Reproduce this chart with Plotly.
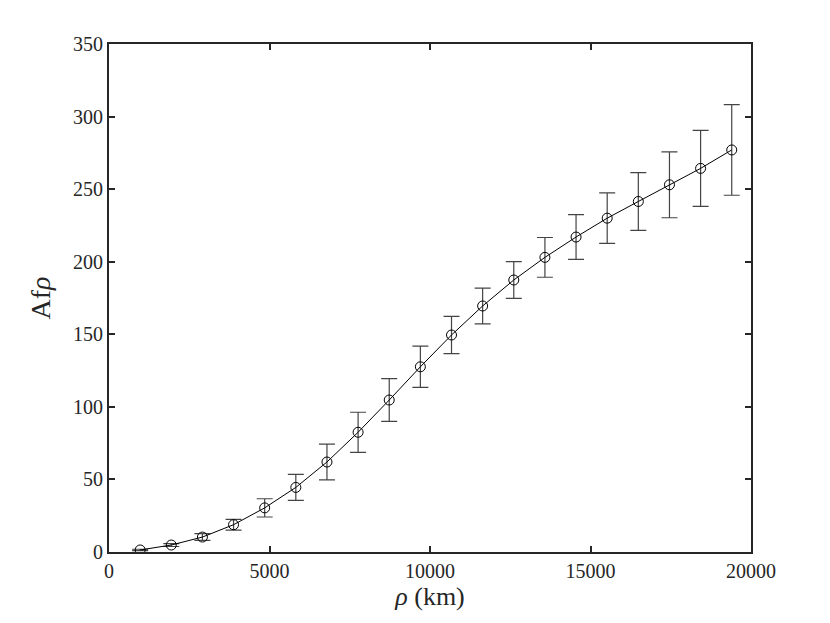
import plotly.graph_objects as go

rho_km = [970, 1940, 2910, 3880, 4850, 5820, 6790, 7760, 8730, 9700,
          10670, 11640, 12610, 13580, 14550, 15520, 16490, 17460, 18430, 19400]
afrho = [1.4, 4.8, 10.3, 18.8, 30.4, 44.5, 62.0, 82.5, 104.7, 127.6,
         149.5, 169.5, 187.4, 203.0, 217.0, 230.0, 241.5, 253.0, 264.3, 277.0]
afrho_err = [0.5, 1.0, 2.3, 3.7, 6.3, 9.0, 12.3, 13.8, 14.7, 14.2,
             12.8, 12.3, 12.6, 13.7, 15.4, 17.4, 19.9, 22.7, 26.2, 31.2]

x_ticks = [0, 5000, 10000, 15000, 20000]
y_ticks = [0, 50, 100, 150, 200, 250, 300, 350]

font_family = "Liberation Serif, DejaVu Serif, serif"

fig = go.Figure()
fig.add_trace(go.Scatter(
    x=rho_km, y=afrho,
    mode="lines+markers",
    line=dict(color="black", width=1),
    marker=dict(symbol="circle-open", size=10, color="black", line=dict(width=1)),
    error_y=dict(type="data", array=afrho_err, visible=True,
                 color="#444444", thickness=1.2, width=8),
    showlegend=False,
))

axis_common = dict(
    showline=True, linecolor="#262626", linewidth=2, mirror="ticks",
    ticks="inside", ticklen=6, tickwidth=2, tickcolor="#262626",
    showgrid=False, zeroline=False,
    tickfont=dict(family=font_family, size=20, color="#262626"),
)

fig.update_xaxes(range=[0, 20000], tickvals=x_ticks,
                 ticktext=[str(v) for v in x_ticks],
                 title=dict(text="<i>ρ</i> (km)", font=dict(family=font_family, size=26, color="#262626"), standoff=4),
                 **axis_common)
fig.update_yaxes(range=[0, 350], tickvals=y_ticks,
                 ticktext=[str(v) for v in y_ticks],
                 title=dict(text="Af<i>ρ</i>", font=dict(family=font_family, size=28, color="#262626"), standoff=14),
                 **axis_common)

fig.update_layout(
    width=822, height=615,
    margin=dict(l=101, r=79, t=36, b=71),
    plot_bgcolor="white", paper_bgcolor="white",
)

fig.write_html("out.html")
